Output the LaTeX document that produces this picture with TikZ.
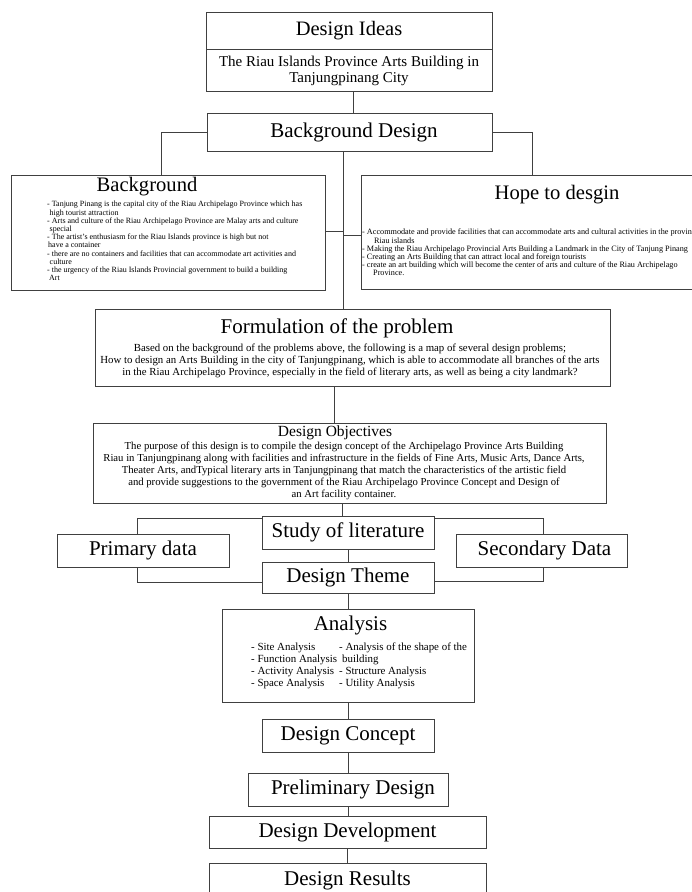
\documentclass[tikz,border=0pt]{standalone}
\usepackage{fontspec}
\setmainfont{Liberation Serif}
\usetikzlibrary{positioning}

\begin{document}
\begin{tikzpicture}
    [   x=1pt, y=-1pt,
        box/.style 2 args={draw=black!75,line width=0.9pt,minimum width=#1,minimum height=#2,inner sep=0pt,align=center},
        big/.style={font=\fontsize{21}{24}\selectfont},
        head/.style={font=\fontsize{20.6}{22}\selectfont,inner sep=0pt},
        small/.style={font=\fontsize{8}{8.2}\selectfont,align=left,inner sep=0pt,anchor=north west},
        body/.style={font=\fontsize{10.8}{12.2}\selectfont,align=center,inner sep=0pt},
        link/.style={draw=black!75,line width=0.9pt},
    ]
        \useasboundingbox (0,0) rectangle (692,892);
        \coordinate (spine) at (343,0);
        % top of the chart
        \node[box={286pt}{37pt},font=\fontsize{20.5}{22}\selectfont] (ideas) at (349,30.5) {Design Ideas};
        \node[box={286pt}{42pt},below=0pt of ideas,font=\fontsize{15}{16}\selectfont] (ideasub) {The Riau Islands Province Arts Building in\\Tanjungpinang City};
        \node[box={285pt}{38pt},font=\fontsize{21}{24}\selectfont] (bgdesign) at (349.5,132) {\hspace*{9pt}Background Design};
        % background and hope
        \node[box={314pt}{115pt}] (bg) at (168,232.5) {};
        \node[head] (bghead) at (147,187) {Background};
        \node[small] (bglist) at (47,201) {- Tanjung Pinang is the capital city of the Riau Archipelago Province which has\\
            \hspace*{2.5pt}high tourist attraction\\
            - Arts and culture of the Riau Archipelago Province are Malay arts and culture\\
            \hspace*{2.5pt}special\\
            - The artist's enthusiasm for the Riau Islands province is high but not\\
            \hspace*{1pt}have a container\\
            - there are no containers and facilities that can accommodate art activities and\\
            \hspace*{2.5pt}culture\\
            - the urgency of the Riau Islands Provincial government to build a building\\
            \hspace*{2pt}Art};
        \node[box={389pt}{114pt}] (hope) at (555.5,232) {};
        \node[head] (hopehead) at (557,195) {Hope to desgin};
        \node[small,font=\fontsize{8.2}{8.2}\selectfont] (hopelist) at (362,229) {- Accommodate and provide facilities that can accommodate arts and cultural activities in the province\\
            \hspace*{12pt}Riau islands\\
            - Making the Riau Archipelago Provincial Arts Building a Landmark in the City of Tanjung Pinang\\
            - Creating an Arts Building that can attract local and foreign tourists\\
            - create an art building which will become the center of arts and culture of the Riau Archipelago\\
            \hspace*{11pt}Province.};
        % problem and objectives
        \node[box={515pt}{77pt}] (formul) at (352.5,347.5) {};
        \node[big,inner sep=0pt] (formhead) at (337,328) {Formulation of the problem};
        \node[body] (formtext) at (350,361) {Based on the background of the problems above, the following is a map of several design problems;\\
            How to design an Arts Building in the city of Tanjungpinang, which is able to accommodate all branches of the arts\\
            in the Riau Archipelago Province, especially in the field of literary arts, as well as being a city landmark?};
        \node[box={513pt}{80pt}] (object) at (349.5,463) {};
        \node[font=\fontsize{15.5}{17}\selectfont,inner sep=0pt] (objhead) at (335,433) {Design Objectives};
        \node[body,font=\fontsize{10.7}{12.1}\selectfont] (objtext) at (344,471) {The purpose of this design is to compile the design concept of the Archipelago Province Arts Building\\
            Riau in Tanjungpinang along with facilities and infrastructure in the fields of Fine Arts, Music Arts, Dance Arts,\\
            Theater Arts, andTypical literary arts in Tanjungpinang that match the characteristics of the artistic field\\
            and provide suggestions to the government of the Riau Archipelago Province Concept and Design of\\
            an Art facility container.};
        % data
        \node[box={172pt}{33pt},big] (study) at (348,532.5) {Study of literature};
        \node[box={172pt}{33pt},big] (primary) at (143,550.5) {Primary data};
        \node[box={171pt}{33pt},big] (secondary) at (541.5,550.5) {\hspace*{6pt}Secondary Data};
        \node[box={172pt}{31pt},big] (theme) at (348,577.5) {Design Theme};
        % analysis
        \node[box={252pt}{93pt}] (analysis) at (348,655.5) {};
        \node[big,inner sep=0pt] (anhead) at (350.5,625) {Analysis};
        \node[small,font=\fontsize{10.9}{12}\selectfont] (anlist) at (251,642) {\begin{tabular}{@{}l@{\hspace{2pt}}l@{}}
            - Site Analysis & - Analysis of the shape of the\\
            - Function Analysis & \hspace*{3pt}building\\
            - Activity Analysis & - Structure Analysis\\
            - Space Analysis & - Utility Analysis
            \end{tabular}};
        % design steps
        \node[box={172pt}{33pt},big] (concept) at (348,735.5) {Design Concept};
        \node[box={200pt}{33pt},big] (prelim) at (348,789.5) {\hspace*{10pt}Preliminary Design};
        \node[box={277pt}{32pt},big] (devel) at (347.5,832) {Design Development};
        \node[box={277pt}{35pt},big] (results) at (347.5,880.5) {Design Results};
        % connectors
        \draw[link] ([xshift=4pt]ideasub.south) -- ([xshift=4pt]ideasub.south |- bgdesign.north);
        \draw[link] (bgdesign.west) -| ([xshift=-7pt]bg.north);
        \draw[link] (bgdesign.east) -| ([xshift=-23.5pt]hope.north);
        \draw[link] (bgdesign.south -| spine) -- (formul.north -| spine);
        \draw[link] ([yshift=1.5pt]bg.east) -- ([yshift=1.5pt]bg.east -| spine);
        \draw[link] ([yshift=-3pt]hope.west) -- ([yshift=-3pt]hope.west -| spine);
        \draw[link] ([xshift=-18.5pt]formul.south) -- ([xshift=-18.5pt]formul.south |- object.north);
        \draw[link] ([xshift=-7.5pt]object.south) -- ([xshift=-7.5pt]object.south |- study.north);
        \draw[link] ([yshift=-3pt]study.north west) -| ([xshift=-6pt]primary.north);
        \draw[link] ([yshift=-3pt]study.north east) -| ([xshift=1.5pt]secondary.north);
        \draw[link] ([xshift=-6pt]primary.south) |- ([yshift=-4.5pt]theme.west);
        \draw[link] ([xshift=1.5pt]secondary.south) |- ([yshift=-4pt]theme.east);
        \foreach \a/\b in {study/theme,theme/analysis,analysis/concept,concept/prelim,prelim/devel,devel/results}
        {   \draw[link] (\a.south) -- (\a.south |- \b.north);
        }
\end{tikzpicture}
\end{document}
